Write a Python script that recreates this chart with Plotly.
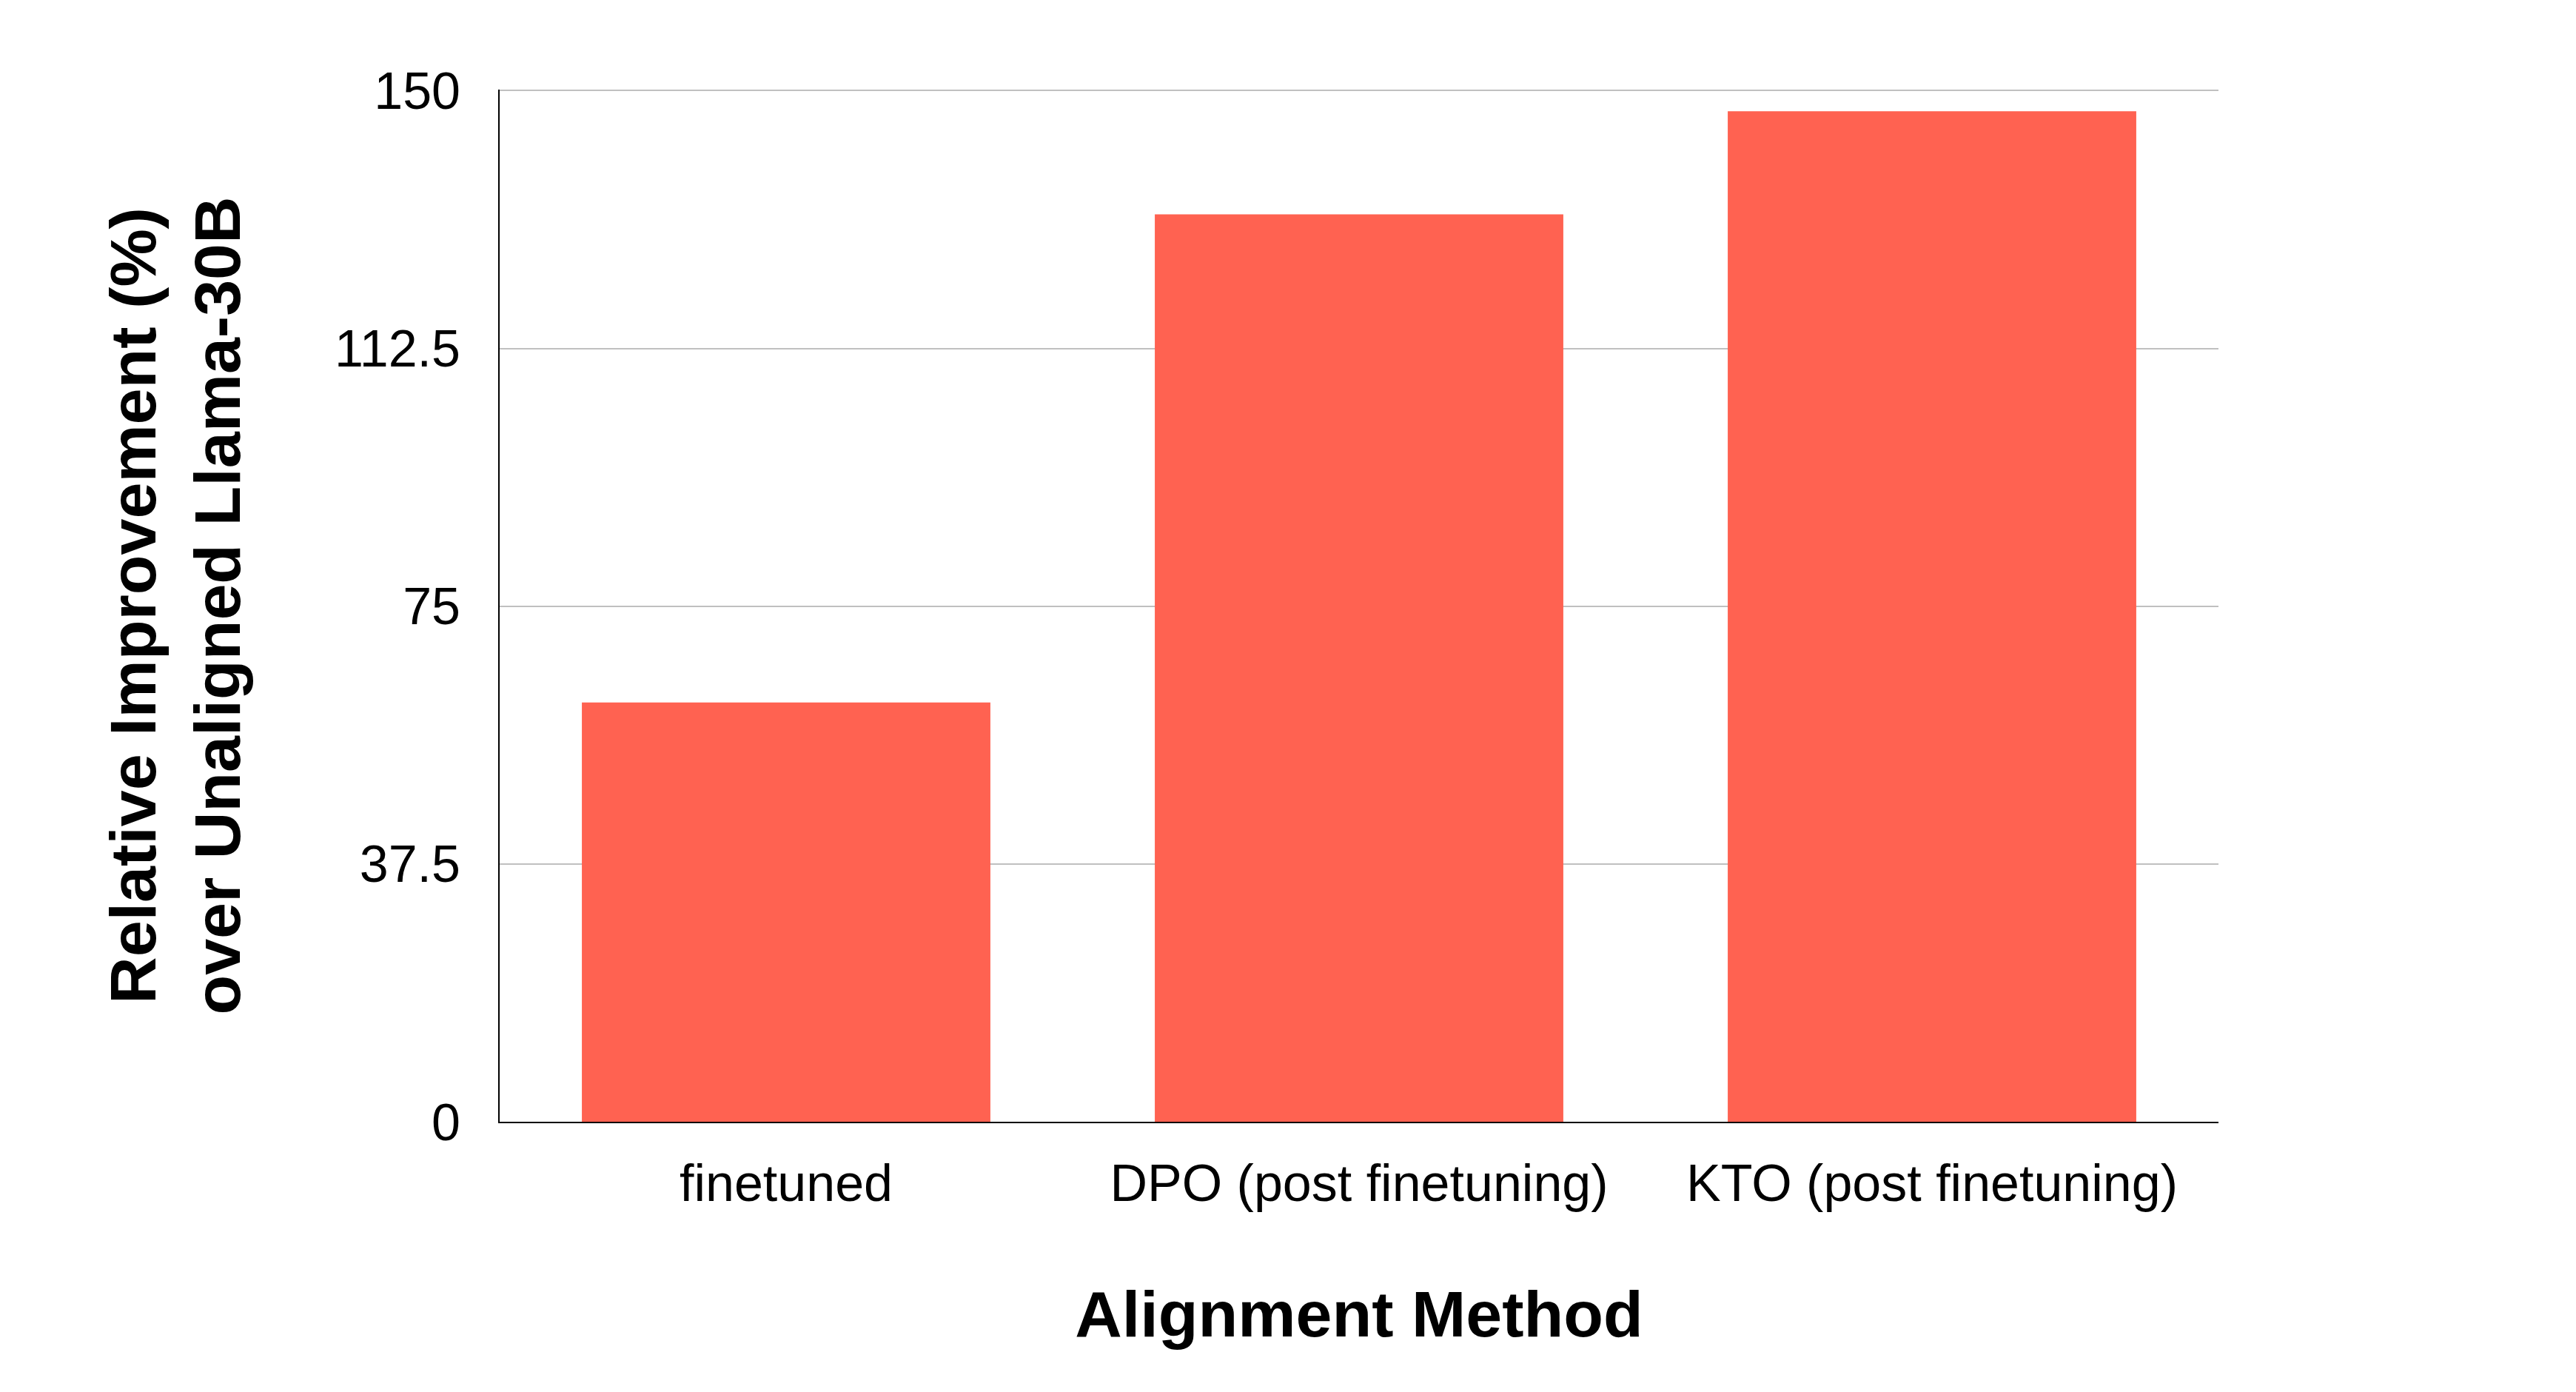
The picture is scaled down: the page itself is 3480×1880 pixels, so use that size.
import plotly.graph_objects as go

categories = ["finetuned", "DPO (post finetuning)", "KTO (post finetuning)"]
values = [61, 132, 147]
y_ticks = [0, 37.5, 75, 112.5, 150]
y_tick_labels = ["0", "37.5", "75", "112.5", "150"]

fig = go.Figure(
    go.Bar(
        x=categories,
        y=values,
        marker=dict(color="#FF6251", line=dict(width=0)),
        width=0.713,
    )
)

fig.update_layout(
    width=3480,
    height=1880,
    margin=dict(l=667, r=491, t=113, b=373, autoexpand=False),
    paper_bgcolor="white",
    plot_bgcolor="white",
    font=dict(family="Liberation Sans, Arial, sans-serif", color="black", size=70),
    showlegend=False,
)

fig.update_xaxes(
    showline=True,
    linecolor="black",
    linewidth=2,
    showgrid=False,
    ticks="",
    tickfont=dict(size=70),
    ticklabelstandoff=21,
    title=dict(
        text="<b>Alignment Method</b>",
        font=dict(size=88),
        standoff=107,
    ),
)

fig.update_yaxes(
    range=[0, 150.15],
    tickvals=y_ticks,
    ticktext=y_tick_labels,
    showline=True,
    linecolor="black",
    linewidth=2,
    showgrid=True,
    gridcolor="#C0C0C0",
    gridwidth=2,
    zeroline=False,
    ticks="",
    tickfont=dict(size=70),
    ticklabelstandoff=37,
    title=dict(
        text="<b>Relative Improvement (%)<br>over Unaligned Llama-30B</b>",
        font=dict(size=88),
        standoff=98,
    ),
)

fig.write_html("out.html")
